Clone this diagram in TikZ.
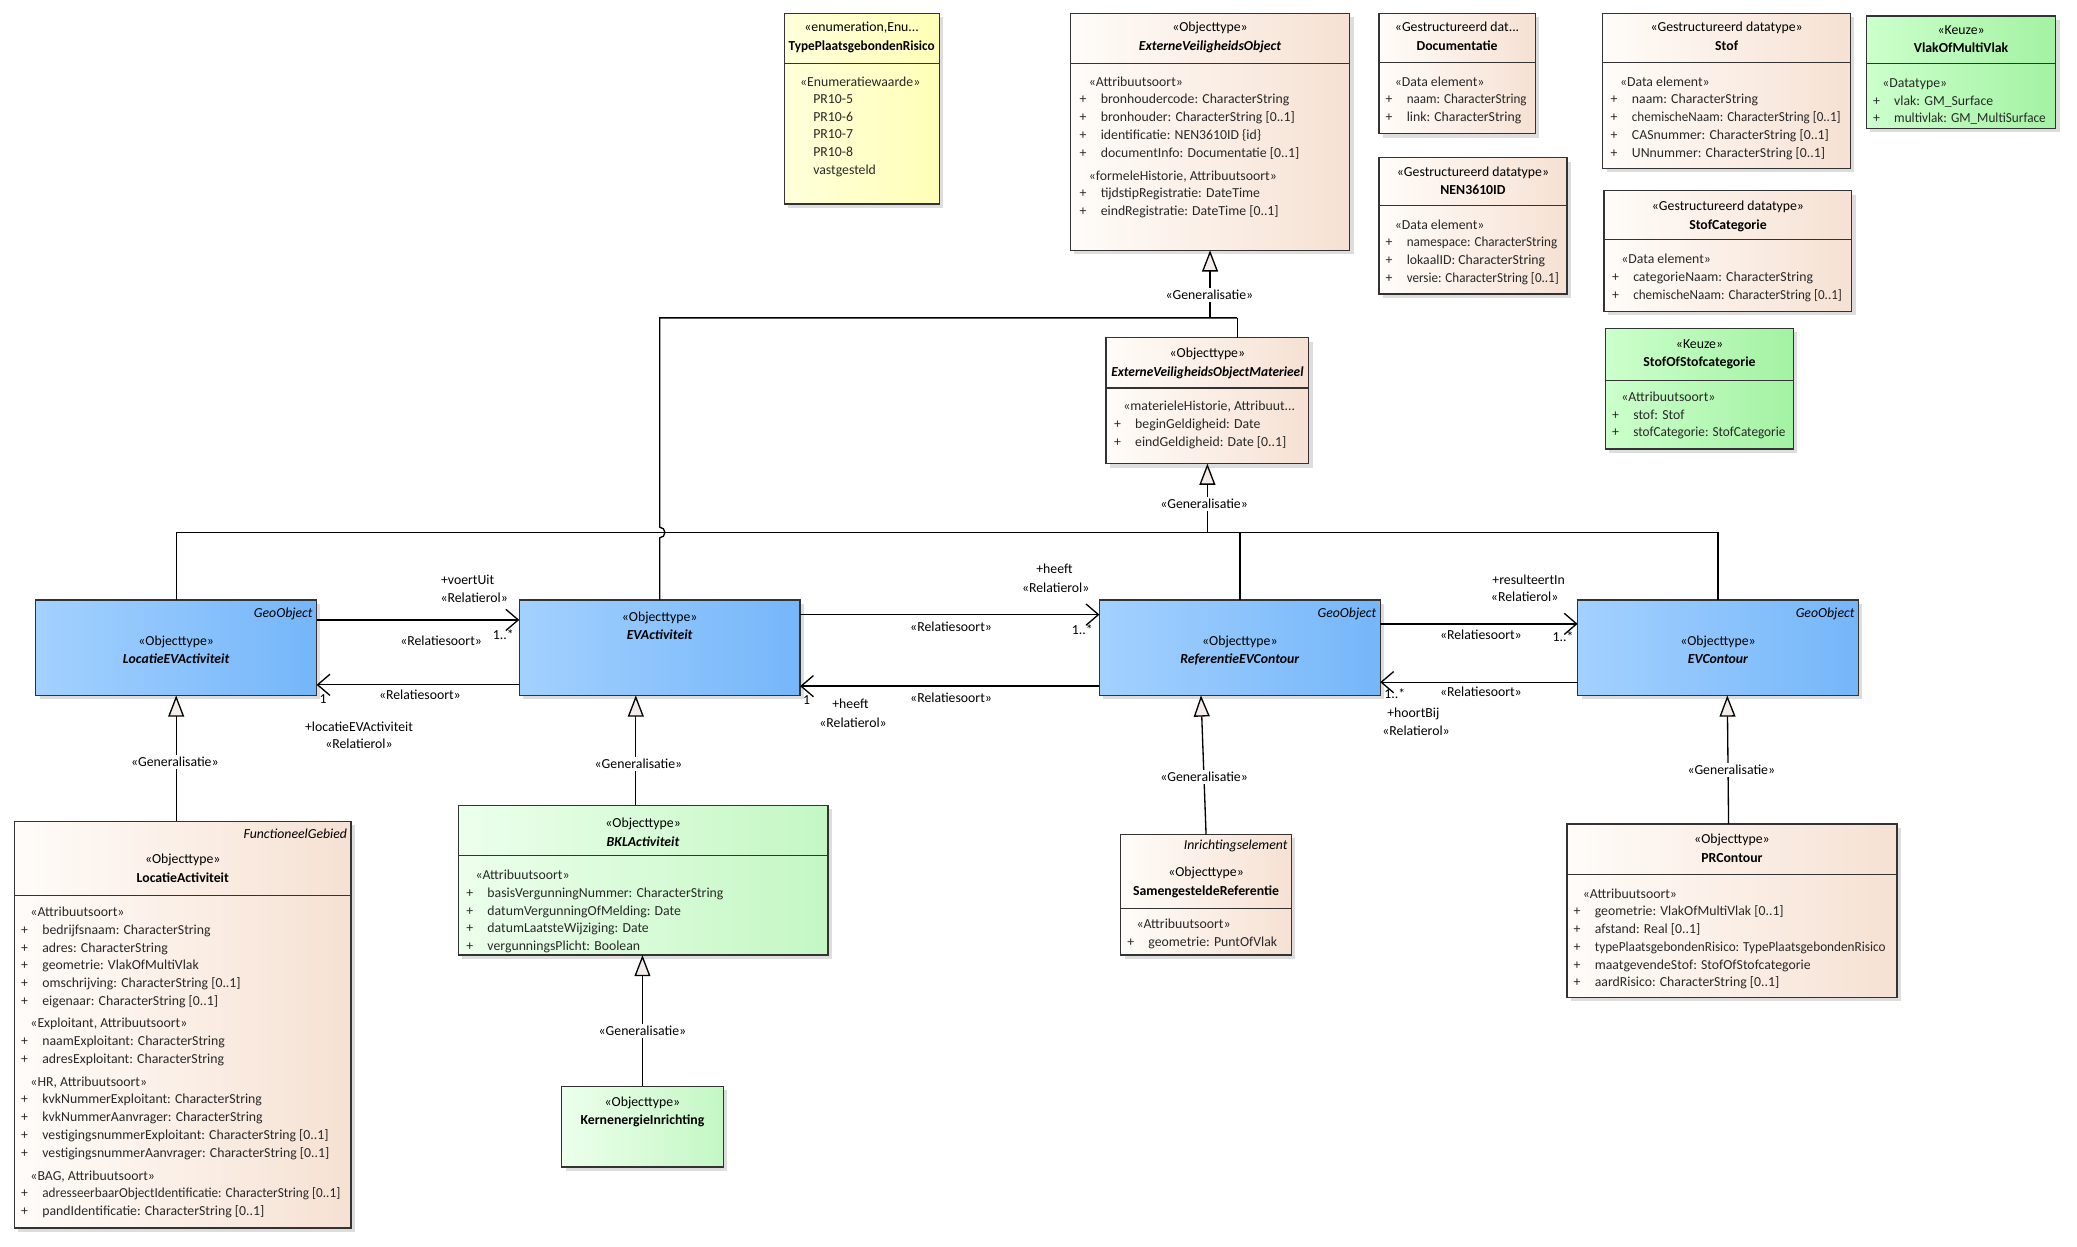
\documentclass[tikz,border=0pt]{standalone}
\usepackage{fontspec}
\usepackage{graphicx}
\setmainfont{Carlito}
\usetikzlibrary{arrows.meta,shadows,fit,calc}
\definecolor{beigeL}{RGB}{255,252,249}
\definecolor{beigeR}{RGB}{246,225,211}
\definecolor{blueL}{RGB}{163,209,255}
\definecolor{blueR}{RGB}{117,182,249}
\definecolor{yelL}{RGB}{255,255,218}
\definecolor{yelR}{RGB}{255,255,184}
\definecolor{grnL}{RGB}{204,255,204}
\definecolor{grnR}{RGB}{163,242,163}
\definecolor{lgrnL}{RGB}{236,255,236}
\definecolor{lgrnR}{RGB}{196,247,196}
\definecolor{trifill}{RGB}{244,236,232}
\definecolor{txtc}{RGB}{40,40,40}
\newcommand\sq[2][0.95]{\scalebox{#1}[1]{#2}}
\tikzset{
  boxbase/.style={draw=black!80, line width=0.75pt, inner sep=0pt, outer sep=0pt,
    drop shadow={shadow xshift=2.2pt, shadow yshift=-2.2pt, opacity=0.22, fill=black!60}},
  beigebox/.style={boxbase, left color=beigeL, right color=beigeR},
  bluebox/.style={boxbase, left color=blueL, right color=blueR},
  yelbox/.style={boxbase, left color=yelL, right color=yelR},
  grnbox/.style={boxbase, left color=grnL, right color=grnR},
  lgrnbox/.style={boxbase, left color=lgrnL, right color=lgrnR},
  divider/.style={draw=black!80, line width=0.75pt},
  t/.style={anchor=base west, inner sep=0pt, outer sep=0pt, text=txtc},
  tc/.style={anchor=base, inner sep=0pt, outer sep=0pt, text=black},
  tr/.style={anchor=base east, inner sep=0pt, outer sep=0pt, text=black},
  lbl/.style={anchor=base, inner sep=1.2pt, fill=white, text=black},
  al/.style={anchor=base, inner sep=0pt, text=black},
  wire/.style={line width=0.75pt, draw=black},
  assoc/.style={wire, -{Straight Barb[length=7pt,width=12pt,line width=0.75pt]}},
  gen/.style={wire, -{Triangle[length=12pt,width=9pt,fill=trifill,line width=0.75pt]}},
}
\newcommand\umlhdr[5]{%
  \node[tc] (#1-st) at (#2,#3+3) {#4};
  \node[tc] (#1-nm) at (#2,#3+17) {#5};}
\newcommand\umlattrs[5]{%
  \node[t] (#1-s) at (#2+7,#3+3) {#4};
  \foreach \q [count=\i] in {#5} {
    \node[t] (#1-p\i) at (#2,#3+3+13.4*\i) {+};
    \node[t] (#1-a\i) at (#2+16,#3+3+13.4*\i) {\q};
  }}
\newcommand\umldiv[2]{\draw[divider] (#1.west |- 0,#2) -- (#1.east |- 0,#2);}
\begin{document}
\begin{tikzpicture}[x=0.75pt,y=-0.75pt,font=\fontsize{7.8}{9.5}\selectfont]
\useasboundingbox[fill=white] (0,0) rectangle (1568,941.4);

% ---------------- boxes ----------------
\node[yelbox, fit={(592,10) (709,154)}] (TPR) {};
\node[beigebox, fit={(808,10) (1019,189)}] (EVO) {};
\node[beigebox, fit={(1041,10) (1159,101)}] (DOC) {};
\node[beigebox, fit={(1041,119) (1183,222)}] (NEN) {};
\node[beigebox, fit={(1210,10) (1397,127)}] (STOF) {};
\node[beigebox, fit={(1211,144) (1398,235)}] (SCAT) {};
\node[grnbox, fit={(1409,12) (1552,97)}] (VOMV) {};
\node[grnbox, fit={(1212,248) (1354,339)}] (SOSC) {};
\node[beigebox, fit={(835,255) (988,350)}] (EVOM) {};
\node[bluebox, fit={(27,453) (239,525)}] (LEVA) {};
\node[bluebox, fit={(392,453) (604,525)}] (EVA) {};
\node[bluebox, fit={(830,453) (1042,525)}] (REVC) {};
\node[bluebox, fit={(1191,453) (1403,525)}] (EVC) {};
\node[beigebox, fit={(11,620) (265,927)}] (LA) {};
\node[lgrnbox, fit={(346,608) (625,721)}] (BKL) {};
\node[lgrnbox, fit={(424,820) (546,881)}] (KI) {};
\node[beigebox, fit={(846,630) (975,721)}] (SR) {};
\node[beigebox, fit={(1183,622) (1432,753)}] (PRC) {};

% dividers
\umldiv{TPR}{48}
\umldiv{EVO}{48}
\umldiv{DOC}{47}
\umldiv{NEN}{155}
\umldiv{STOF}{47}
\umldiv{SCAT}{181}
\umldiv{VOMV}{48}
\umldiv{SOSC}{287}
\umldiv{EVOM}{293}
\umldiv{LA}{676}
\umldiv{BKL}{646}
\umldiv{SR}{686}
\umldiv{PRC}{660}

% ---------------- headers ----------------
\umlhdr{TPR}{650.5}{21}{«enumeration,Enu...}{\sq[0.96]{\textbf{TypePlaatsgebondenRisico}}}
\umlhdr{EVO}{913.5}{21}{«Objecttype»}{\textbf{\textit{ExterneVeiligheidsObject}}}
\umlhdr{DOC}{1100}{21}{«Gestructureerd dat...}{\textbf{Documentatie}}
\umlhdr{NEN}{1112}{130}{«Gestructureerd datatype»}{\textbf{NEN3610ID}}
\umlhdr{STOF}{1303.5}{21}{«Gestructureerd datatype»}{\textbf{Stof}}
\umlhdr{SCAT}{1304.5}{156}{«Gestructureerd datatype»}{\textbf{StofCategorie}}
\umlhdr{VOMV}{1480.5}{23}{«Keuze»}{\textbf{VlakOfMultiVlak}}
\umlhdr{SOSC}{1283}{260}{«Keuze»}{\textbf{StofOfStofcategorie}}
\umlhdr{EVOM}{911.5}{267}{«Objecttype»}{\sq[0.97]{\textbf{\textit{ExterneVeiligheidsObjectMaterieel}}}}
\umlhdr{LEVA}{133}{484}{«Objecttype»}{\textbf{\textit{LocatieEVActiviteit}}}
\umlhdr{EVA}{498}{466}{«Objecttype»}{\textbf{\textit{EVActiviteit}}}
\umlhdr{REVC}{936}{484}{«Objecttype»}{\textbf{\textit{ReferentieEVContour}}}
\umlhdr{EVC}{1297}{484}{«Objecttype»}{\textbf{\textit{EVContour}}}
\umlhdr{LA}{138}{649}{«Objecttype»}{\textbf{LocatieActiviteit}}
\umlhdr{BKL}{485.5}{622}{«Objecttype»}{\textbf{\textit{BKLActiviteit}}}
\umlhdr{KI}{485}{832}{«Objecttype»}{\textbf{KernenergieInrichting}}
\umlhdr{SR}{910.5}{659}{«Objecttype»}{\textbf{SamengesteldeReferentie}}
\umlhdr{PRC}{1307.5}{634}{«Objecttype»}{\textbf{PRContour}}

\node[tr] (LEVA-geo) at (236,466) {\textit{GeoObject}};
\node[tr] (REVC-geo) at (1039,466) {\textit{GeoObject}};
\node[tr] (EVC-geo) at (1400,466) {\textit{GeoObject}};
\node[tr] (LA-geo) at (262,633) {\textit{FunctioneelGebied}};
\node[tr] (SR-geo) at (972,641) {\textit{Inrichtingselement}};

% ---------------- bodies ----------------
\node[t] (TPR-s) at (604,65) {«Enumeratiewaarde»};
\foreach \q [count=\i] in {PR10-5,PR10-6,PR10-7,PR10-8,vastgesteld}
  \node[t] (TPR-v\i) at (614,65+13.3*\i) {\q};

\umlattrs{EVO1}{815}{62}{«Attribuutsoort»}{bronhoudercode: CharacterString, bronhouder: CharacterString [0..1], identificatie: NEN3610ID \{id\}, documentInfo: Documentatie [0..1]}
\umlattrs{EVO2}{815}{133}{«formeleHistorie, Attribuutsoort»}{tijdstipRegistratie: DateTime, eindRegistratie: DateTime [0..1]}
\umlattrs{DOC}{1046}{62}{«Data element»}{{\sq{naam: CharacterString}}, link: CharacterString}
\umlattrs{NEN}{1046}{170}{«Data element»}{{\sq{namespace: CharacterString}}, lokaalID: CharacterString, {\sq{versie: CharacterString [0..1]}}}
\umlattrs{STOF}{1216}{62}{«Data element»}{naam: CharacterString, {\sq{chemischeNaam: CharacterString [0..1]}}, CASnummer: CharacterString [0..1], UNnummer: CharacterString [0..1]}
\umlattrs{SCAT}{1217}{196}{«Data element»}{categorieNaam: CharacterString, {\sq{chemischeNaam: CharacterString [0..1]}}}
\umlattrs{VOMV}{1414}{63}{«Datatype»}{vlak: GM\_Surface, {\sq[0.96]{multivlak: GM\_MultiSurface}}}
\umlattrs{SOSC}{1217}{300}{«Attribuutsoort»}{stof: Stof, {\sq[0.96]{stofCategorie: StofCategorie}}}
\umlattrs{EVOM}{841}{307}{«materieleHistorie, Attribuut...}{beginGeldigheid: Date, eindGeldigheid: Date [0..1]}
\umlattrs{LA1}{16}{689}{«Attribuutsoort»}{bedrijfsnaam: CharacterString, adres: CharacterString, geometrie: VlakOfMultiVlak, omschrijving: CharacterString [0..1], eigenaar: CharacterString [0..1]}
\umlattrs{LA2}{16}{773}{«Exploitant, Attribuutsoort»}{naamExploitant: CharacterString, adresExploitant: CharacterString}
\umlattrs{LA3}{16}{817}{«HR, Attribuutsoort»}{kvkNummerExploitant: CharacterString, kvkNummerAanvrager: CharacterString, vestigingsnummerExploitant: CharacterString [0..1], vestigingsnummerAanvrager: CharacterString [0..1]}
\umlattrs{LA4}{16}{888}{«BAG, Attribuutsoort»}{{\sq[0.96]{adresseerbaarObjectIdentificatie: CharacterString [0..1]}}, pandIdentificatie: CharacterString [0..1]}
\umlattrs{BKL}{352}{661}{«Attribuutsoort»}{basisVergunningNummer: CharacterString, datumVergunningOfMelding: Date, datumLaatsteWijziging: Date, vergunningsPlicht: Boolean}
\umlattrs{SR}{851}{698}{«Attribuutsoort»}{geometrie: PuntOfVlak}
\umlattrs{PRC}{1188}{675}{«Attribuutsoort»}{geometrie: VlakOfMultiVlak [0..1], afstand: Real [0..1], {\sq[0.96]{typePlaatsgebondenRisico: TypePlaatsgebondenRisico}}, maatgevendeStof: StofOfStofcategorie, aardRisico: CharacterString [0..1]}

% ---------------- generalisations (top) ----------------
\coordinate (j1) at (EVO.south |- 0,240);
\coordinate (j2) at (934,240);
\draw[gen] (j1) -- (EVO.south);
\draw[wire] (EVOM.north -| j2) -- (j2);
\draw[wire] (EVA.north) -- ++(0,-47) arc[start angle=-90,end angle=90,radius=3pt] -- (EVA.north |- j2) -- (j2);
\node[lbl] (gl1) at (913,226) {«Generalisatie»};

\coordinate (j3) at (EVOM.south |- 0,402);
\draw[gen] (j3) -- (EVOM.south);
\draw[wire] (LEVA.north) |- (EVC.north |- j3) -- (EVC.north);
\draw[wire] (REVC.north) -- (REVC.north |- j3);
\node[lbl] (gl2) at (909,384) {«Generalisatie»};

% ---------------- generalisations (bottom) ----------------
\path ([xshift=-13.5pt]EVA.south) coordinate (t2);
\path ([xshift=-22pt]REVC.south) coordinate (t3);
\path ([xshift=5.25pt]EVC.south) coordinate (t4);
\draw[gen] (LA.north -| LEVA.south) -- (LEVA.south);
\draw[gen] (BKL.north -| t2) -- (t2);
\draw[gen] (SR.north) -- (t3);
\draw[gen] ([xshift=-1.9pt]PRC.north) -- (t4);
\draw[gen] (KI.north) -- (KI.north |- BKL.south);
\node[lbl] (gl3) at (132,579) {«Generalisatie»};
\node[lbl] (gl4) at (482,580) {«Generalisatie»};
\node[lbl] (gl5) at (909,590) {«Generalisatie»};
\node[lbl] (gl6) at (1307,585) {«Generalisatie»};
\node[lbl] (gl7) at (485,782) {«Generalisatie»};

% ---------------- associations ----------------
\draw[assoc] (LEVA.east |- 0,468) -- (EVA.west |- 0,468);
\draw[assoc] (EVA.west |- 0,517) -- (LEVA.east |- 0,517);
\draw[assoc] (EVA.east |- 0,464) -- (REVC.west |- 0,464);
\draw[assoc] (REVC.west |- 0,518) -- (EVA.east |- 0,518);
\draw[assoc] (REVC.east |- 0,471) -- (EVC.west |- 0,471);
\draw[assoc] (EVC.west |- 0,515) -- (REVC.east |- 0,515);

\node[al] (a1) at (353,441) {+voertUit};
\node[al] (a2) at (358,455) {«Relatierol»};
\node[al] (a3) at (333,487) {«Relatiesoort»};
\node[al] (a4) at (380,483) {1..*};
\node[al] (a5) at (317,528) {«Relatiesoort»};
\node[al] (a6) at (244,531) {1};
\node[al] (a7) at (271,552) {+locatieEVActiviteit};
\node[al] (a8) at (271,565) {«Relatierol»};

\node[al] (b1) at (796,433) {+heeft};
\node[al] (b2) at (797,447) {«Relatierol»};
\node[al] (b3) at (718,477) {«Relatiesoort»};
\node[al] (b4) at (817,479) {1..*};
\node[al] (b5) at (718,530) {«Relatiesoort»};
\node[al] (b6) at (609,532) {1};
\node[al] (b7) at (642,535) {+heeft};
\node[al] (b8) at (644,549) {«Relatierol»};

\node[al] (c1) at (1154,441) {+resulteertIn};
\node[al] (c2) at (1151,454) {«Relatierol»};
\node[al] (c3) at (1118,483) {«Relatiesoort»};
\node[al] (c4) at (1180,484) {1..*};
\node[al] (c5) at (1118,526) {«Relatiesoort»};
\node[al] (c6) at (1053,527) {1..*};
\node[al] (c7) at (1067,542) {+hoortBij};
\node[al] (c8) at (1069,555) {«Relatierol»};
\end{tikzpicture}
\end{document}
